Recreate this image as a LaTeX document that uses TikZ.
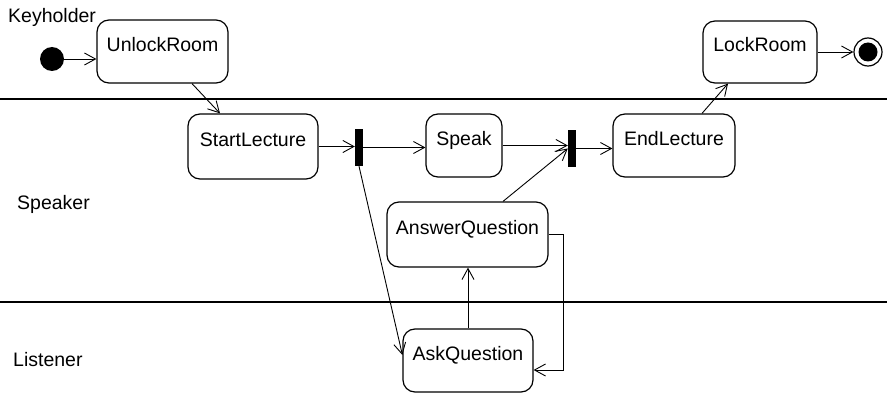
\documentclass[tikz,border=0pt]{standalone}
\usepackage{fontspec}
\setmainfont{Liberation Sans}
\usetikzlibrary{arrows.meta}
\begin{document}
\begin{tikzpicture}[x=1pt,y=-1pt,
  every node/.style={font=\fontsize{19.5}{23}\selectfont},
  state/.style={draw, line width=1.2pt, rounded corners=12pt, inner sep=0pt,
    text height=14pt, text depth=14pt, minimum height=63pt},
  bar/.style={fill=black, draw=none, inner sep=0pt, minimum width=8pt, minimum height=37pt},
  lane/.style={line width=2pt},
  arr/.style={line width=0.9pt, -{Straight Barb[length=11pt,width=12pt,line width=0.9pt]}},
  lanelabel/.style={anchor=west, inner sep=0pt}
]
\useasboundingbox (0,0) rectangle (887,393);

% swimlane separators
\draw[lane] (0,99) -- (887,99);
\draw[lane] (0,302) -- (887,302);

% lane names
\node[lanelabel] (kh) at (8,17) {Keyholder};
\node[lanelabel] (spk) at (17,204) {Speaker};
\node[lanelabel] (lst) at (13,360) {Listener};

% start and end states
\node[circle, fill=black, inner sep=0pt, minimum size=24pt] (init) at (52,59) {};
\node[circle, draw, line width=1.2pt, inner sep=0pt, minimum size=28pt] (fin) at (868,52) {};
\fill (fin.center) circle (9.5pt);

% activities
\node[state, minimum width=131pt] (ul) at (162.5,51.5) {UnlockRoom};
\node[state, minimum width=130pt, minimum height=65pt] (sl) at (253,146.5) {StartLecture};
\node[state, minimum width=76pt] (sp) at (464,145.5) {Speak};
\node[state, minimum width=122pt] (el) at (674,145.5) {EndLecture};
\node[state, minimum width=114pt, minimum height=62pt] (lr) at (760,52) {LockRoom};
\node[state, minimum width=161pt, minimum height=65pt] (aw) at (467.5,234.5) {AnswerQuestion};
\node[state, minimum width=130pt] (aq) at (468,360.5) {AskQuestion};

% fork and join bars
\node[bar] (b1) at (359,147.5) {};
\node[bar] (b2) at (572,148.5) {};

% transitions
\draw[arr] (init) -- (init -| ul.west);
\draw[arr] ([xshift=29.5pt]ul.south) -- ([xshift=-33pt]sl.north);
\draw[arr] (sl.east) -- (sl.east -| b1.west);
\draw[arr] (b1.east) -- (b1.east -| sp.west);
\draw[arr] (sp.east) -- (sp.east -| b2.west);
\draw[arr] (b2.east) -- (b2.east -| el.west);
\draw[arr] ([xshift=28pt]el.north) -- ([xshift=-32pt]lr.south);
\draw[arr] (lr.east) -- (fin);
\draw[arr] (b1.south) -- ([yshift=5.5pt]aq.west);
\draw[arr] ([xshift=35.5pt]aw.north) -- (b2.west);
\draw[arr] (aq.north) -- (aq.north |- aw.south);
\draw[arr] (aw.east) -- ++(15,0) |- ([yshift=-9.5pt]aq.east);
\end{tikzpicture}
\end{document}
